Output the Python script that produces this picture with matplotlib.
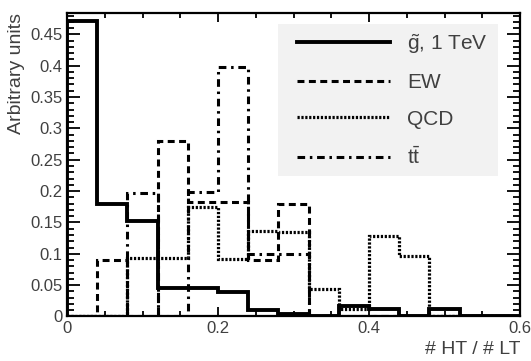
import numpy as np
import matplotlib
matplotlib.use("Agg")
import matplotlib.pyplot as plt
from matplotlib.patches import Rectangle
from matplotlib.ticker import MultipleLocator, FixedLocator, FuncFormatter

plt.rcParams['font.family'] = ['Liberation Sans', 'DejaVu Sans']
plt.rcParams['mathtext.fontset'] = 'custom'
plt.rcParams['mathtext.rm'] = 'Liberation Sans'
plt.rcParams['lines.scale_dashes'] = False

## histogram data (bin width 0.04, unit normalised)
bin_edges = np.round(np.arange(0, 0.6001, 0.04), 2)
gluino = [0.472, 0.179, 0.153, 0.045, 0.045, 0.039, 0.011, 0.004, 0.0, 0.017, 0.012, 0.0, 0.012, 0.0, 0.0]
ew = [0.0, 0.09, 0.0, 0.28, 0.182, 0.182, 0.09, 0.18, 0.0, 0.0, 0.0, 0.0, 0.0, 0.0, 0.0]
qcd = [0.0, 0.0, 0.093, 0.093, 0.175, 0.092, 0.136, 0.135, 0.044, 0.012, 0.129, 0.097, 0.0, 0.0, 0.0]
ttbar = [0.0, 0.0, 0.197, 0.0, 0.198, 0.398, 0.1, 0.1, 0.0, 0.0, 0.0, 0.0, 0.0, 0.0, 0.0]
labels = [r'$\tilde{\mathrm{g}}$, 1 TeV', 'EW', 'QCD', r'$\mathrm{t\bar{t}}$']

txt_col = '#404040'

fig = plt.figure(figsize=(5.31, 3.61), dpi=100)
ax = fig.add_axes([0.1262, 0.1233, 0.8531, 0.8407])

h1 = ax.stairs(gluino, bin_edges, color='black', lw=2.8, linestyle='-')
h2 = ax.stairs(ew, bin_edges, color='black', lw=2.2, linestyle=(0, (5, 3.2)))
h3 = ax.stairs(qcd, bin_edges, color='black', lw=2.3, linestyle=(0, (1.6, 1.2)))
h4 = ax.stairs(ttbar, bin_edges, color='black', lw=2.2, linestyle=(0, (5.5, 3.4, 1.8, 3.4)))

ax.set_xlim(0, 0.6)
ax.set_ylim(0, 0.484)

fmt = FuncFormatter(lambda v, pos: f'{v:g}')
ax.xaxis.set_major_locator(FixedLocator([0, 0.2, 0.4, 0.6]))
ax.xaxis.set_minor_locator(MultipleLocator(0.05))
ax.yaxis.set_major_locator(MultipleLocator(0.05))
ax.yaxis.set_minor_locator(MultipleLocator(0.01))
ax.xaxis.set_major_formatter(fmt)
ax.yaxis.set_major_formatter(fmt)

ax.tick_params(which='both', direction='in', top=True, right=True, width=1.3,
               labelsize=12, labelcolor=txt_col, pad=3)
ax.tick_params(axis='y', which='major', length=9.5)
ax.tick_params(axis='y', which='minor', length=5)
ax.tick_params(axis='x', which='major', length=6.5)
ax.tick_params(axis='x', which='minor', length=3.5)
for s in ax.spines.values():
    s.set_linewidth(1.6)

ax.set_xlabel('# HT / # LT', fontsize=14, color=txt_col, loc='right', labelpad=4)
ax.set_ylabel('Arbitrary units', fontsize=14, color=txt_col, loc='top', labelpad=4)

# legend background box
ax.add_patch(Rectangle((0.4658, 0.4629), 0.4857, 0.5008, transform=ax.transAxes,
                       facecolor='#f2f2f2', edgecolor='none', zorder=2.5))
leg = ax.legend([h1, h2, h3, h4], labels, loc='upper left',
                bbox_to_anchor=(0.5077, 0.938), fontsize=15, frameon=False,
                handlelength=4.47, handletextpad=0.8, labelspacing=0.84,
                borderpad=0, borderaxespad=0)
leg.set_zorder(3)
for t in leg.get_texts():
    t.set_color(txt_col)

fig.savefig('out.png', dpi=100)
